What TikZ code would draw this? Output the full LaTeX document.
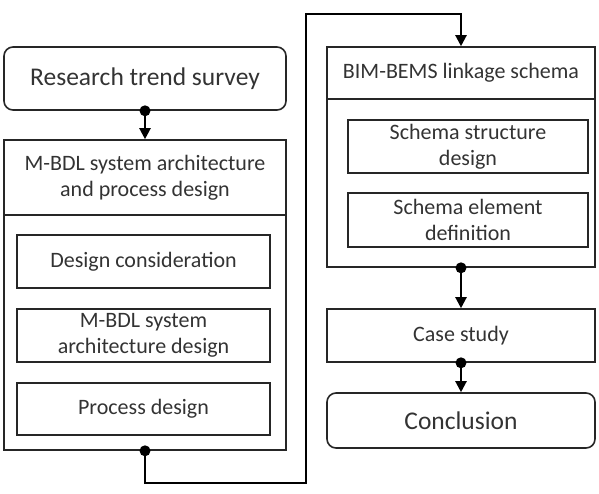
\documentclass[tikz,border=0pt]{standalone}
\usepackage{fontspec}
\setmainfont{Carlito}
\usetikzlibrary{arrows.meta}
\begin{document}
\begin{tikzpicture}[x=1pt,y=-1pt,
  box/.style={draw=black!85,line width=1.6pt,text=black!80,align=center,inner sep=0pt,font=\fontsize{22}{26}\selectfont},
  endbox/.style={box,rounded corners=9pt,font=\fontsize{25.5}{30}\selectfont},
  flow/.style={line width=2.2pt,black,-{Triangle[width=11pt,length=11pt]}},
  dot/.style={circle,fill=black,inner sep=0pt,minimum size=11pt}]
\useasboundingbox (0,0) rectangle (599,493);
% left column
\node[endbox,minimum width=282,minimum height=63] (survey) at (145,78.5) {Research trend survey};
\node[box,minimum width=282,minimum height=310] (arch) at (145,295) {};
\node[box,minimum width=282,minimum height=75] (archtitle) at (145,177.5) {M-BDL system architecture\\and process design};
\node[box,minimum width=253,minimum height=53] (consider) at (143.5,261.5) {Design consideration};
\node[box,minimum width=253,minimum height=53] (sysarch) at (143.5,335.5) {M-BDL system\\architecture design};
\node[box,minimum width=253,minimum height=52] (process) at (143.5,409) {Process design};
% right column
\node[box,minimum width=268,minimum height=220] (linkage) at (461,157) {};
\node[box,minimum width=268,minimum height=52] (linktitle) at (461,73) {BIM-BEMS linkage schema};
\node[box,minimum width=240,minimum height=53] (structure) at (468,146.5) {Schema structure\\design};
\node[box,minimum width=240,minimum height=54] (element) at (468,220) {Schema element\\definition};
\node[box,minimum width=268,minimum height=53] (case) at (461,335.5) {Case study};
\node[endbox,minimum width=268,minimum height=55] (concl) at (461,420.5) {Conclusion};
% connectors
\coordinate (loopa) at (145,483);
\coordinate (loopb) at (306,14);
\draw[flow] (survey.south) -- (arch.north);
\draw[flow] (arch.south) -- (loopa) -| (loopb) -| (linkage.north);
\draw[flow] (linkage.south) -- (case.north);
\draw[flow] (case.south) -- (concl.north);
\node[dot] (d1) at (survey.south) {};
\node[dot] (d2) at (arch.south) {};
\node[dot] (d3) at (linkage.south) {};
\node[dot] (d4) at (case.south) {};
\end{tikzpicture}
\end{document}
